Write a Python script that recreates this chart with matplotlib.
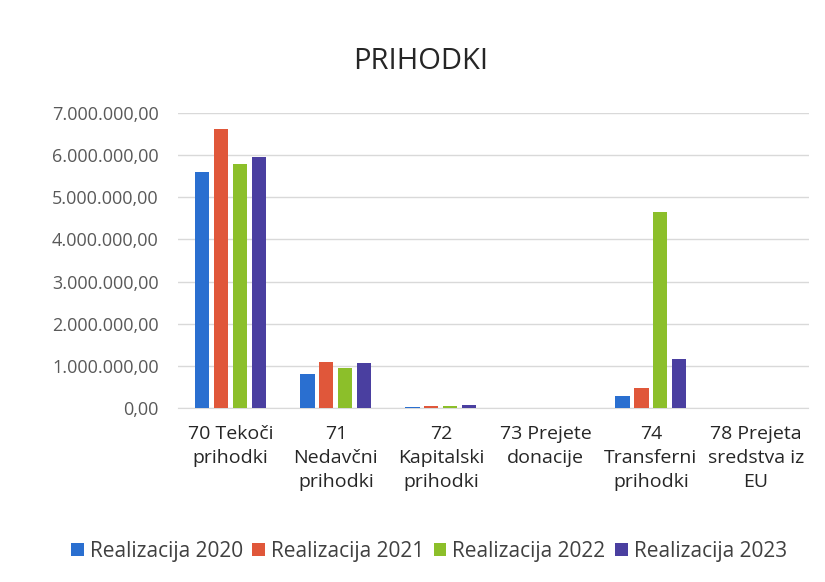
import matplotlib.pyplot as plt
import numpy as np
from matplotlib.ticker import FuncFormatter

# podatki
kategorije = ["70 Tekoči\nprihodki", "71\nNedavčni\nprihodki", "72\nKapitalski\nprihodki",
              "73 Prejete\ndonacije", "74\nTransferni\nprihodki", "78 Prejeta\nsredstva iz\nEU"]
real_2020 = [5590000, 800000, 30000, 0, 290000, 0]
real_2021 = [6620000, 1090000, 50000, 0, 470000, 0]
real_2022 = [5790000, 940000, 50000, 0, 4640000, 0]
real_2023 = [5950000, 1060000, 60000, 0, 1160000, 0]
serije = ["Realizacija 2020", "Realizacija 2021", "Realizacija 2022", "Realizacija 2023"]
barve = ["#2a6fd0", "#e0573a", "#8cbf2a", "#4a3fa0"]

plt.rcParams['font.family'] = ['Open Sans', 'DejaVu Sans']

fig = plt.figure(figsize=(8.25, 5.82), dpi=100)
ax = fig.add_axes([0.216, 0.299, 0.764, 0.507])

x = np.arange(len(kategorije))
w = 0.135
gap = 0.045
vrednosti = [real_2020, real_2021, real_2022, real_2023]
for i, (v, ime, c) in enumerate(zip(vrednosti, serije, barve)):
    off = (i - 1.5) * (w + gap)
    ax.bar(x + off, v, width=w, color=c, label=ime, zorder=3)

ax.set_xlim(-0.5, len(kategorije) - 0.5)
ax.set_ylim(0, 7000000)
ax.set_yticks(np.arange(0, 7000001, 1000000))
ax.yaxis.set_major_formatter(FuncFormatter(
    lambda v, p: "{:,.2f}".format(v).replace(",", "X").replace(".", ",").replace("X", ".")))
ax.grid(axis="y", color="#d9d9d9", linewidth=1, zorder=0)
for s in ["top", "right", "left"]:
    ax.spines[s].set_visible(False)
ax.spines["bottom"].set_color("#d9d9d9")
ax.tick_params(axis="y", length=0, labelsize=13, labelcolor="#595959", pad=14)
ax.tick_params(axis="x", length=0, labelsize=14, labelcolor="#262626", pad=12)
ax.set_xticks(x)
ax.set_xticklabels(kategorije, linespacing=1.45)

fig.text(0.51, 0.895, "PRIHODKI", ha="center", va="center", fontsize=21, color="#262626")

fig.legend(loc="center", bbox_to_anchor=(0.52, 0.053), ncol=4, frameon=False,
           fontsize=15, handlelength=0.6, handleheight=0.6, handletextpad=0.3,
           columnspacing=0.45, labelcolor="#404040")

plt.savefig("out.png", dpi=100)
